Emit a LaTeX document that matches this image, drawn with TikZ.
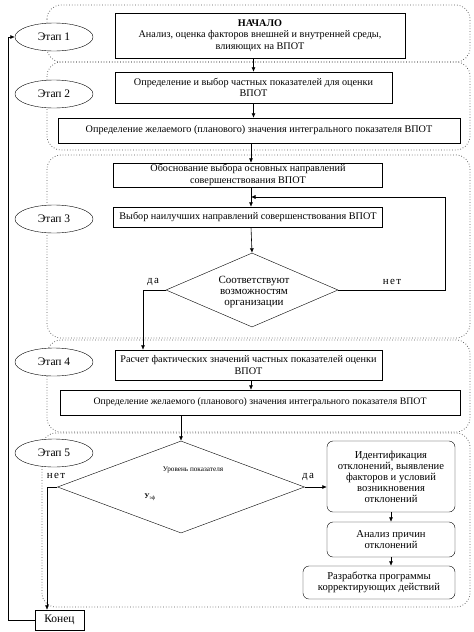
\documentclass[tikz,border=0pt]{standalone}
\usepackage{fontspec}
\setmainfont{Liberation Serif}
\usetikzlibrary{arrows.meta,positioning,calc,shapes.geometric}
\tikzset{
  grp/.style={draw=black!65, dotted, line width=0.75pt, rounded corners=14pt},
  etap/.style={draw, fill=white, ellipse, minimum width=78pt, minimum height=28pt,
               inner sep=0pt, font=\fontsize{11.5}{13}\selectfont},
  blk/.style={draw, fill=white, inner sep=1pt, align=center,
              font=\fontsize{10.2}{11.5}\selectfont},
  rblk/.style={blk, rounded corners=6pt, font=\fontsize{10.6}{11}\selectfont},
  dec/.style={draw, diamond, inner sep=0pt},
  dtxt/.style={align=center, inner sep=0pt, font=\fontsize{11}{11}\selectfont},
  lbl/.style={inner sep=0pt, font=\fontsize{11}{12}\selectfont\addfontfeature{LetterSpace=12}},
  arr/.style={-{Latex[length=4.5pt,width=4pt]}, black, line width=0.6pt},
}

\begin{document}
\begin{tikzpicture}[x=1pt, y=-1pt]
    \useasboundingbox (0,0) rectangle (474,632);
    \draw[grp] (47,5) rectangle (470,62);
    \draw[grp] (47,62) rectangle (470,150);
    \draw[grp] (47,155) rectangle (470,338);
    \draw[grp] (47,340) rectangle (470,432);
    \draw[grp] (42,433) rectangle (470,607);
    \coordinate (spine) at (251,0);
    \coordinate (loopR) at (445,197);
    \coordinate (daX) at (143,0);
    \coordinate (netX) at (47,0);
    \coordinate (loopL) at (8,0);
    \node[etap] (e1) at (54,37) {Этап 1};
    \node[etap] (e2) at (54,94) {Этап 2};
    \node[etap] (e3) at (54,219) {Этап 3};
    \node[etap] (e4) at (54,362) {Этап 4};
    \node[etap] (e5) at (54,453) {Этап 5};
    \node[blk, minimum width=290pt, minimum height=45pt] (start) at (260,35.5)
      {\textbf{НАЧАЛО}\\Анализ, оценка факторов внешней и внутренней среды,\\влияющих на ВПОТ};
    \node[blk, minimum width=277pt, minimum height=31pt] (b21) at (253.5,87.5)
      {Определение и выбор частных показателей для оценки\\ВПОТ};
    \node[blk, minimum width=402pt, minimum height=25pt] (b22) at (259,130.5)
      {Определение желаемого (планового) значения интегрального показателя ВПОТ};
    \node[blk, minimum width=269pt, minimum height=24pt] (b31) at (248,175)
      {Обоснование выбора основных направлений\\совершенствования ВПОТ};
    \node[blk, minimum width=269pt, minimum height=20pt] (b32) at (248,217)
      {Выбор наилучших направлений совершенствования ВПОТ};
    \node[dec, minimum width=172pt, minimum height=74pt] (d3) at (252,290) {};
    \node[dtxt] (d3t) at (254,292) {Соответствуют\\возможностям\\организации};
    \node[blk, minimum width=267pt, minimum height=30pt] (b41) at (248.5,365)
      {Расчет фактических значений частных показателей оценки\\ВПОТ};
    \node[blk, minimum width=400pt, minimum height=25pt, font=\fontsize{9.8}{11}\selectfont] (b42) at (260,402.5)
      {Определение желаемого (планового) значения интегрального показателя ВПОТ};
    \node[dec, minimum width=247pt, minimum height=92pt] (d5) at (181,487) {};
    \node[dtxt, font=\fontsize{7.2}{8}\selectfont] (d5t) at (193,470) {Уровень показателя};
    \node[dtxt, font=\fontsize{7.2}{8}\selectfont] (d5y) at (150,497) {\textbf{У}\textsubscript{эф}};
    \node[rblk, minimum width=128pt, minimum height=71pt] (bA) at (391,476.5)
      {Идентификация\\отклонений, выявление\\факторов и условий\\возникновения\\отклонений};
    \node[rblk, minimum width=128pt, minimum height=35pt] (bB) at (391,539.5)
      {Анализ причин\\отклонений};
    \node[rblk, minimum width=152pt, minimum height=33pt] (bC) at (379,582.5)
      {Разработка программы\\корректирующих действий};
    \node[blk, minimum width=49pt, minimum height=20pt, font=\fontsize{11.5}{12}\selectfont] (end) at (59.5,620) {Конец};
    \node[lbl] (da3) at (153,282) {да};
    \node[lbl] (net3) at (392,282) {нет};
    \node[lbl] (net5) at (56,476) {нет};
    \node[lbl] (da5) at (308,477) {да};
    \draw[arr] (b21.north |- start.south) -- (b21.north);
    \draw[arr] (b21.south) -- (b21.south |- b22.north);
    \draw[arr] (spine |- b22.south) -- (spine |- b31.north);
    \draw[arr] (spine |- b31.south) -- (spine |- b32.north);
    \draw[arr] (spine |- b32.south) -- (d3.north);
    \draw[arr] (d3.east) -| (loopR) -- (loopR -| spine);
    \draw[arr] (d3.west) -| (daX |- b41.north);
    \draw[arr] (spine |- b41.south) -- (spine |- b42.north);
    \draw[arr] (d5.north |- b42.south) -- (d5.north);
    \draw[arr] (d5.east) -- (d5.east -| bA.west);
    \draw[arr] (bA.south) -- (bB.north);
    \draw[arr] (bB.south) -- (bB.south |- bC.north);
    \draw[arr] (d5.west) -- (d5.west -| netX) -- (netX |- end.north);
    \draw[arr] (end.west) -- (end.west -| loopL) |- (e1.west);
  \end{tikzpicture}
\end{document}
